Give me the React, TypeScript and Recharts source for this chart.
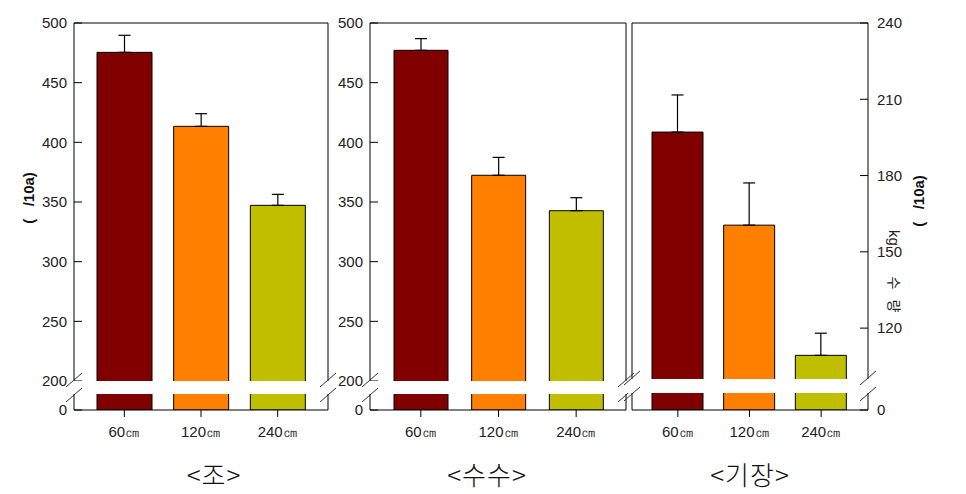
import React from 'react';
import { BarChart, Bar, XAxis, YAxis, ErrorBar, ReferenceLine, Cell } from 'recharts';

const spacings = ['60㎝', '120㎝', '240㎝'];
const barColors = ['#800000', '#FF8000', '#BFBF00'];
const panelTitles = ['<조>', '<수수>', '<기장>'];

// 조 (foxtail millet)
const joYield = [475.4, 413.4, 347.2];
const joError = [14.3, 10.6, 9.2];
// 수수 (sorghum)
const susuYield = [477.1, 372.4, 342.7];
const susuError = [9.8, 15.0, 10.9];
// 기장 (proso millet)
const gijangYield = [197.1, 160.5, 109.3];
const gijangError = [14.6, 16.6, 8.7];

const grainTicks = [200, 250, 300, 350, 400, 450, 500];
const gijangTicks = [120, 150, 180, 210, 240];

// broken axis: the bottom of the axis is labelled 0
const grainAxis = { floor: 175.7, top: 500, breakLow: 189.1, breakHigh: 200 };
const gijangAxis = { floor: 87.8, top: 240, breakLow: 94.5, breakHigh: 100 };

const PLOT_TOP = 23;
const PLOT_H = 387;
const CHART_H = 494;
const FONT = '"Liberation Sans", Arial, sans-serif';
const KFONT = '"Noto Sans CJK KR", sans-serif';
const NB = '\u00a0';

type PanelProps = {
  left: number;
  leftAxisW: number;
  plotW: number;
  rightAxisW: number;
  values: number[];
  errors: number[];
  ticks: number[];
  axis: { floor: number; top: number; breakLow: number; breakHigh: number };
  leftLabels: boolean;
  rightLabels: boolean;
  pad: { left: number; right: number };
  barSize: number;
};

const Panel: React.FC<PanelProps> = (p) => {
  const data = spacings.map((name, i) => ({ name, value: p.values[i], err: [0, p.errors[i]] }));
  const width = p.leftAxisW + p.plotW + p.rightAxisW;
  const allTicks = [p.axis.floor, ...p.ticks];
  const fmt = (v: number) => (v === p.axis.floor ? '0' : String(v));
  const tickStyle = { fill: '#222', fontSize: 15, fontFamily: FONT };
  return (
    <div style={{ position: 'absolute', left: p.left, top: 0 }}>
      <BarChart width={width} height={CHART_H} data={data} margin={{ top: PLOT_TOP, right: 0, bottom: 0, left: 0 }}>
        <XAxis
          dataKey="name"
          height={CHART_H - PLOT_TOP - PLOT_H}
          padding={p.pad}
          axisLine={{ stroke: '#000' }}
          tickLine={{ stroke: '#000' }}
          tickSize={7}
          tickMargin={9}
          tick={tickStyle}
          interval={0}
        />
        <YAxis
          yAxisId="l"
          orientation="left"
          width={p.leftAxisW}
          type="number"
          domain={[p.axis.floor, p.axis.top]}
          allowDataOverflow
          ticks={allTicks}
          tickFormatter={fmt}
          axisLine={{ stroke: '#000' }}
          tickLine={{ stroke: '#000' }}
          tickSize={-8}
          tickMargin={15}
          tick={p.leftLabels ? tickStyle : false}
        />
        <YAxis
          yAxisId="r"
          orientation="right"
          width={p.rightAxisW}
          type="number"
          domain={[p.axis.floor, p.axis.top]}
          allowDataOverflow
          ticks={allTicks}
          tickFormatter={fmt}
          axisLine={{ stroke: '#000' }}
          tickLine={{ stroke: '#000' }}
          tickSize={-8}
          tickMargin={17}
          tick={p.rightLabels ? tickStyle : false}
        />
        <ReferenceLine yAxisId="l" y={p.axis.top} stroke="#000" />
        <Bar yAxisId="l" dataKey="value" barSize={p.barSize} stroke="#000" strokeWidth={1} isAnimationActive={false}>
          {data.map((d, i) => (
            <Cell key={d.name} fill={barColors[i]} />
          ))}
          <ErrorBar dataKey="err" width={6} stroke="#000" strokeWidth={1.2} direction="y" isAnimationActive={false} />
        </Bar>
      </BarChart>
    </div>
  );
};

const panels = [
  { left: 0, leftAxisW: 74, plotW: 254, rightAxisW: 12, values: joYield, errors: joError, ticks: grainTicks, axis: grainAxis, leftLabels: true, rightLabels: false, pad: { left: 12, right: 12 }, barSize: 55 },
  { left: 330, leftAxisW: 40, plotW: 256, rightAxisW: 12, values: susuYield, errors: susuError, ticks: grainTicks, axis: grainAxis, leftLabels: true, rightLabels: false, pad: { left: 12, right: 11 }, barSize: 54 },
  { left: 622, leftAxisW: 10, plotW: 236, rightAxisW: 50, values: gijangYield, errors: gijangError, ticks: gijangTicks, axis: gijangAxis, leftLabels: false, rightLabels: true, pad: { left: 10, right: 11 }, barSize: 51 },
];

const titleX = [214, 487, 750];

// white gap + slashes where the value axis is broken
const BreakMarks: React.FC = () => {
  const marks: React.ReactNode[] = [];
  panels.forEach((p, i) => {
    const { floor, top, breakLow, breakHigh } = p.axis;
    const yOf = (v: number) => PLOT_TOP + ((top - v) / (top - floor)) * PLOT_H;
    const x0 = p.left + p.leftAxisW;
    const x1 = x0 + p.plotW;
    const yA = yOf(breakHigh);
    const yB = yOf(breakLow);
    marks.push(<rect key={`g${i}`} x={x0 - 4} y={yA} width={x1 - x0 + 8} height={yB - yA} fill="#fff" />);
    [x0, x1].forEach((ax, j) => {
      [yA - 1, yB + 1].forEach((yc, k) => (
        marks.push(<line key={`s${i}${j}${k}`} x1={ax - 8} y1={yc + 7} x2={ax + 8} y2={yc - 7} stroke="#333" strokeWidth={1} />)
      ));
    });
  });
  return <>{marks}</>;
};

export default function App() {
  const unitLabel = `(${NB}${NB}${NB}/10a)`;
  return (
    <div style={{ position: 'absolute', left: 0, top: 0, width: 966, height: 494, background: '#fff' }}>
      {panels.map((p, i) => (
        <Panel key={i} {...p} />
      ))}
      <svg width={966} height={494} style={{ position: 'absolute', left: 0, top: 0, pointerEvents: 'none' }}>
        <BreakMarks />
        <text x={28} y={198} transform="rotate(-90 28 198)" textAnchor="middle" dominantBaseline="central"
          fontFamily={FONT} fontWeight="bold" fontSize={15} fill="#111">{unitLabel}</text>
        <text x={918} y={201} transform="rotate(-90 918 201)" textAnchor="middle" dominantBaseline="central"
          fontFamily={FONT} fontWeight="bold" fontSize={15} fill="#111">{unitLabel}</text>
        <text x={894} y={238} transform="rotate(90 894 238)" textAnchor="middle" dominantBaseline="central"
          fontFamily={FONT} fontSize={15} fill="#222">kg</text>
        <text x={895} y={283} transform="rotate(90 895 283)" textAnchor="middle" dominantBaseline="central"
          fontFamily={KFONT} fontSize={14} fill="#222">수</text>
        <text x={895} y={306} transform="rotate(90 895 306)" textAnchor="middle" dominantBaseline="central"
          fontFamily={KFONT} fontSize={14} fill="#222">량</text>
        {panelTitles.map((t, i) => (
          <text key={t} x={titleX[i]} y={473} textAnchor="middle" dominantBaseline="central"
            fontFamily={KFONT} fontSize={26} fontWeight={300} letterSpacing={1} fill="#111">{t}</text>
        ))}
      </svg>
    </div>
  );
}
